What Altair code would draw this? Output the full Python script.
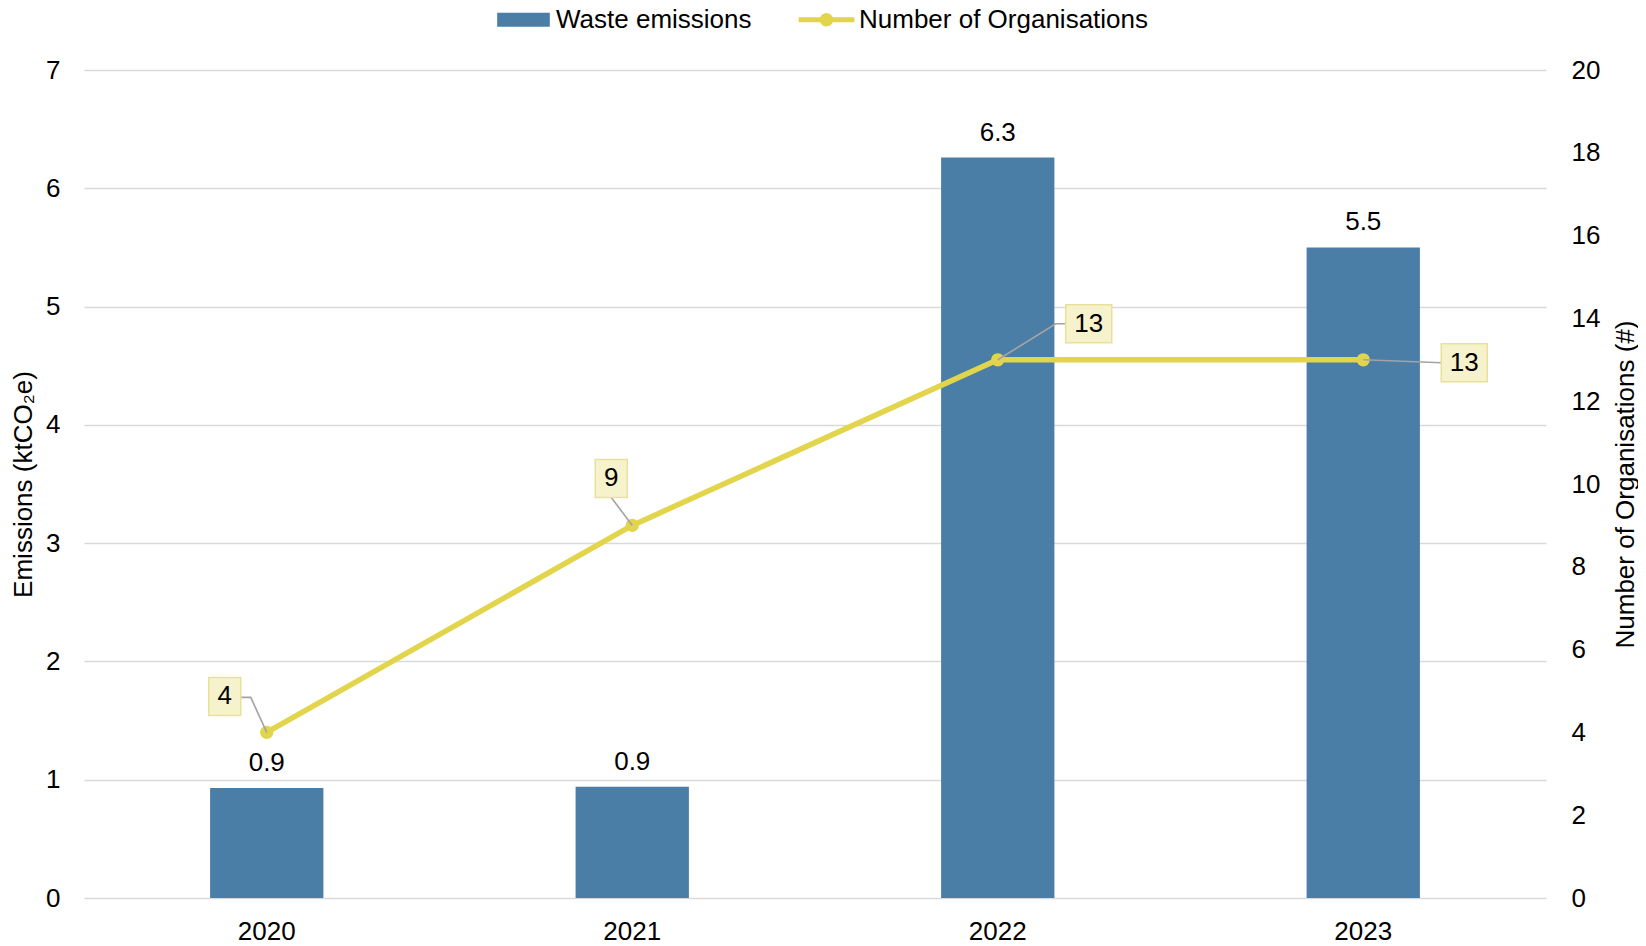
import altair as alt
import pandas as pd

# ---------------- data ----------------
years = ["2020", "2021", "2022", "2023"]
emissions = [0.93, 0.94, 6.26, 5.5]          # ktCO2e (bars, left axis)
organisations = [4, 9, 13, 13]               # number of organisations (line, right axis)
series_names = ["Waste emissions", "Number of Organisations"]
left_ticks = [0, 1, 2, 3, 4, 5, 6, 7]
right_ticks = [0, 2, 4, 6, 8, 10, 12, 14, 16, 18, 20]
left_title = "Emissions (ktCO₂e)"
right_title = "Number of Organisations (#)"

# ---------------- styles ----------------
FONT = "Liberation Sans"
BAR = "#4a7ea6"
LINE = "#e2d54c"
BOX_FILL = "#f6f2cb"
BOX_STROKE = "#e9e19b"
LEADER = "#a3a3a3"
GRID = "#d9d9d9"
TXT = "#000000"
FS = 26

W, H = 1462, 828

# callout styling: offsets (px) of the label box relative to its point, box size, leader path
callout_style = [
    dict(cx=-42, cy=-36, w=32, h=38, leader="M0,0L-16,-35L-27,-35"),
    dict(cx=-21, cy=-47, w=32, h=38, leader="M0,0L-21,-28"),
    dict(cx=91, cy=-36, w=46, h=38, leader="M0,0L58,-36L68,-36"),
    dict(cx=101, cy=3, w=46, h=38, leader="M0,0L78,3"),
]

df = pd.DataFrame({"year": years, "emissions": emissions, "orgs": organisations})
legend_df = pd.DataFrame({"series": series_names})

x_enc = alt.X(
    "year:N",
    sort=years,
    scale=alt.Scale(paddingInner=0.69, paddingOuter=0.345),
    axis=alt.Axis(title=None, labelAngle=0, ticks=False, tickSize=0, domain=False,
                  grid=False, labelPadding=20, labelFontSize=FS, labelColor=TXT),
)

y_left = alt.Y(
    "emissions:Q",
    scale=alt.Scale(domain=[0, 7], nice=False, zero=True),
    axis=alt.Axis(values=left_ticks, title=left_title, grid=True, gridColor=GRID,
                  gridWidth=1.3, domain=False, ticks=False, tickSize=0,
                  labelPadding=24, labelFontSize=FS, labelColor=TXT,
                  titleX=-61, titleY=H / 2, titleAngle=270, titleAlign="center",
                  titleBaseline="middle", titleFontSize=FS, titleFontWeight="normal",
                  titleColor=TXT),
)

y_right = alt.Y(
    "orgs:Q",
    scale=alt.Scale(domain=[0, 20], nice=False, zero=True),
    axis=alt.Axis(orient="right", values=right_ticks, title=right_title, grid=False,
                  domain=False, ticks=False, tickSize=0, labelPadding=25,
                  labelFontSize=FS, labelColor=TXT,
                  titleX=79, titleY=H / 2, titleAngle=270, titleAlign="center",
                  titleBaseline="middle", titleFontSize=FS, titleFontWeight="normal",
                  titleColor=TXT),
)

base = alt.Chart(df)

bars = base.mark_bar(color=BAR).encode(x=x_enc, y=y_left)
bar_text = base.mark_text(dy=-12, baseline="bottom", fontSize=FS, color=TXT).encode(
    x=x_enc, y=y_left, text=alt.Text("emissions:Q", format=".1f")
)

line = base.mark_line(color=LINE, strokeWidth=5.5).encode(x=x_enc, y=y_right)
points = base.mark_point(filled=True, size=175, color=LINE, opacity=1).encode(x=x_enc, y=y_right)

callout_layers = []
for i, st in enumerate(callout_style):
    sub = alt.Chart(df.iloc[[i]])
    leader = sub.mark_point(
        shape=st["leader"], size=4, filled=False, fill=None, stroke=LEADER,
        strokeWidth=1.6, opacity=1,
    ).encode(x=x_enc, y=y_right)
    x0, y0 = st["cx"] - st["w"] / 2, st["cy"] - st["h"] / 2
    x1, y1 = st["cx"] + st["w"] / 2, st["cy"] + st["h"] / 2
    box_path = f"M{x0},{y0}L{x1},{y0}L{x1},{y1}L{x0},{y1}Z"
    box = sub.mark_point(
        shape=box_path, size=4, filled=True, fill=BOX_FILL, stroke=BOX_STROKE,
        strokeWidth=1.5, opacity=1, fillOpacity=1,
    ).encode(x=x_enc, y=y_right)
    label = sub.mark_text(
        dx=st["cx"], dy=st["cy"], fontSize=FS, color=TXT, align="center", baseline="middle"
    ).encode(x=x_enc, y=y_right, text=alt.Text("orgs:Q"))
    callout_layers += [leader, box, label]

rect_sym = "M-1,-0.266L1,-0.266L1,0.266L-1,0.266Z"
line_sym = ("M-1.06,-0.095L1.06,-0.095L1.06,0.095L-1.06,0.095Z "
            "M0.255,0A0.255,0.255 0 1,1 -0.255,0A0.255,0.255 0 1,1 0.255,0Z")

legend_def = alt.Legend(
    title=None, orient="none", direction="horizontal", legendX=413, legendY=-77,
    symbolSize=2770, symbolOpacity=1, symbolStrokeWidth=0, labelFontSize=FS,
    labelColor=TXT, labelFont=FONT, labelOffset=6, columnPadding=46, labelLimit=0,
)
legend_layer = alt.Chart(legend_df).mark_point(filled=True, opacity=0).encode(
    color=alt.Color("series:N", sort=series_names,
                    scale=alt.Scale(domain=series_names, range=[BAR, LINE]),
                    legend=legend_def),
    shape=alt.Shape("series:N", sort=series_names,
                    scale=alt.Scale(domain=series_names, range=[rect_sym, line_sym]),
                    legend=legend_def),
)

left = alt.layer(bars, bar_text)
right = alt.layer(line, points, *callout_layers, legend_layer)

chart = (
    alt.layer(left, right)
    .resolve_scale(y="independent")
    .properties(
        width=W, height=H,
        autosize=alt.AutoSizeParams(type="none"),
        padding={"left": 76, "top": 62, "right": 92, "bottom": 48},
    )
    .configure(font=FONT)
    .configure_view(stroke=None)
)

chart.save("out.html", embed_options={"renderer": "svg", "actions": False})
